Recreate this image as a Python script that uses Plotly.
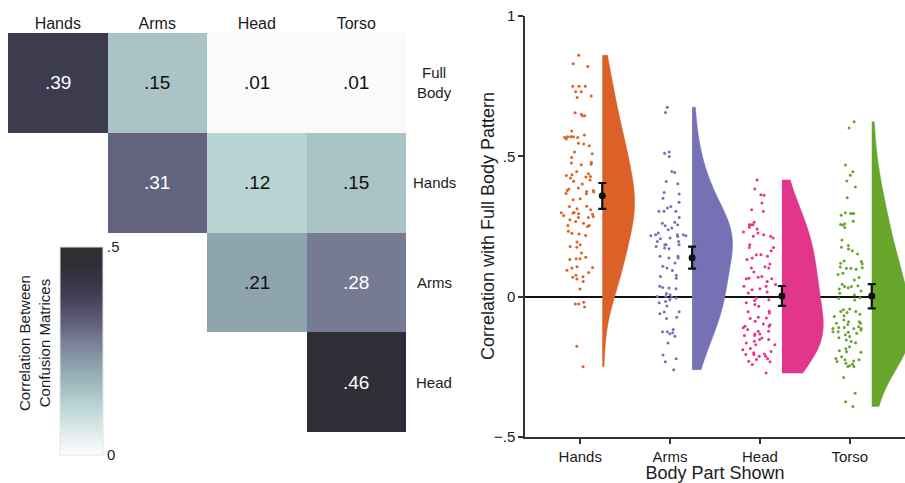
import plotly.graph_objects as go

# ---------------- data ----------------
hm_cols = ["Hands", "Arms", "Head", "Torso"]
hm_rows = ["Full Body", "Hands", "Arms", "Head"]
hm_row_labels = ["Full<br>Body", "Hands", "Arms", "Head"]
hm_z = [
    [0.39, 0.15, 0.01, 0.01],
    [None, 0.31, 0.12, 0.15],
    [None, None, 0.21, 0.28],
    [None, None, None, 0.46],
]

parts = ["Hands", "Arms", "Head", "Torso"]

hands_vals = [0.86, 0.82, 0.83, 0.75, 0.75, 0.75, 0.71, 0.715, 0.73, 0.73, 0.65, 0.645, 0.645,
              0.655, 0.59, 0.57, 0.576, 0.57, 0.568, 0.567, 0.57, 0.57, 0.562, 0.547, 0.544,
              0.538, 0.515, 0.509, 0.496, 0.476, 0.47, 0.472, 0.479, 0.446, 0.432, 0.438,
              0.434, 0.428, 0.426, 0.423, 0.416, 0.411, 0.401, 0.384, 0.387, 0.375, 0.373,
              0.378, 0.378, 0.367, 0.368, 0.345, 0.349, 0.313, 0.321, 0.295, 0.299, 0.31,
              0.322, 0.294, 0.298, 0.3, 0.282, 0.286, 0.289, 0.262, 0.25, 0.233, 0.282,
              0.274, 0.268, 0.254, 0.254, 0.223, 0.226, 0.218, 0.195, 0.185, 0.179, 0.176,
              0.156, 0.14, 0.135, 0.132, 0.135, 0.107, 0.102, 0.104, 0.094, 0.076, 0.063,
              0.069, 0.086, 0.071, 0.054, 0.027, -0.02, -0.026, -0.037, -0.026, -0.177, -0.25]
arms_vals = [0.675, 0.656, 0.499, 0.511, 0.515, 0.442, 0.446, 0.41, 0.402, 0.371, 0.366, 0.351,
             0.336, 0.316, 0.321, 0.304, 0.282, 0.304, 0.304, 0.265, 0.262, 0.256, 0.253,
             0.245, 0.238, 0.221, 0.227, 0.217, 0.221, 0.221, 0.197, 0.185, 0.185, 0.197,
             0.206, 0.214, 0.209, 0.217, 0.173, 0.179, 0.171, 0.185, 0.138, 0.144, 0.144,
             0.138, 0.12, 0.108, 0.102, 0.093, 0.076, 0.072, 0.066, 0.037, 0.028, 0.031,
             0.033, 0.011, 0.007, 0.001, 0.001, -0.005, -0.002, -0.011, -0.022, -0.017,
             -0.033, -0.055, -0.054, -0.061, -0.073, -0.078, -0.117, -0.125, -0.125, -0.129,
             -0.132, -0.141, -0.165, -0.208, -0.221, -0.232, -0.26]
head_vals = [0.416, 0.384, 0.361, 0.363, 0.334, 0.304, 0.31, 0.265, 0.256, 0.247, 0.256, 0.256,
             0.241, 0.227, 0.221, 0.23, 0.215, 0.209, 0.215, 0.185, 0.175, 0.175, 0.164,
             0.149, 0.149, 0.144, 0.138, 0.116, 0.107, 0.132, 0.102, 0.102, 0.088, 0.072,
             0.064, 0.064, 0.069, 0.066, 0.054, 0.043, 0.037, 0.025, 0.028, 0.037, 0.017,
             0.013, -0.011, -0.014, -0.005, -0.022, -0.034, -0.028, -0.052, -0.054, -0.058,
             -0.073, -0.078, -0.076, -0.088, -0.105, -0.097, -0.1, -0.105, -0.111, -0.117,
             -0.123, -0.123, -0.133, -0.138, -0.133, -0.138, -0.153, -0.153, -0.147, -0.165,
             -0.159, -0.171, -0.171, -0.189, -0.185, -0.195, -0.206, -0.206, -0.221, -0.212,
             -0.204, -0.2, -0.224, -0.232, -0.23, -0.212, -0.242, -0.272]
torso_vals = [0.623, 0.601, 0.469, 0.445, 0.433, 0.412, 0.391, 0.352, 0.296, 0.29, 0.299, 0.296,
              0.296, 0.269, 0.257, 0.246, 0.26, 0.255, 0.202, 0.182, 0.176, 0.17, 0.164,
              0.152, 0.125, 0.117, 0.127, 0.106, 0.103, 0.119, 0.101, 0.101, 0.098, 0.083,
              0.079, 0.068, 0.059, 0.044, 0.036, 0.027, 0.032, 0.039, 0.036, 0.012, 0.02,
              0.006, -0.012, -0.006, -0.004, -0.047, -0.053, -0.063, -0.053, -0.056, -0.044,
              -0.071, -0.068, -0.089, -0.099, -0.095, -0.089, -0.083, -0.095, -0.113, -0.113,
              -0.119, -0.11, -0.107, -0.11, -0.113, -0.13, -0.127, -0.125, -0.136, -0.125,
              -0.142, -0.146, -0.154, -0.16, -0.164, -0.178, -0.186, -0.193, -0.196, -0.198,
              -0.214, -0.22, -0.225, -0.231, -0.229, -0.249, -0.246, -0.249, -0.225, -0.237,
              -0.241, -0.288, -0.344, -0.374, -0.391]
part_values = [hands_vals, arms_vals, head_vals, torso_vals]

means = [0.36, 0.139, 0.002, 0.002]
ci_low = [0.313, 0.10, -0.033, -0.042]
ci_high = [0.405, 0.178, 0.038, 0.045]

y_tickvals = [-0.5, 0, 0.5, 1]
y_ticktext = ["\u2212.5", "0", ".5", "1"]

# ---------------- styles ----------------
FONT = "Liberation Sans, Arial, sans-serif"
TXT = "#1c1c1c"
colors = ["#dc6128", "#7671b4", "#e2368c", "#67a62a"]
violin_widths = [0.72, 0.9, 0.92, 0.9]
violin_bw = [0.1, 0.1, 0.1, 0.1]
VOFF = 0.245

W, H = 905, 483
def px_x(p):
    return p / W
def px_y(p):
    return 1 - p / H

hm_colorscale = [
    [0.0, "#ffffff"],
    [0.02, "#f9fafa"],
    [0.24, "#b8d4d3"],
    [0.30, "#aac4c6"],
    [0.42, "#8fa5ae"],
    [0.56, "#767a92"],
    [0.62, "#64637f"],
    [0.78, "#3d3b4e"],
    [0.92, "#2f2e36"],
    [1.0, "#313033"],
]

fig = go.Figure()

# ---------------- heatmap ----------------
fig.add_trace(go.Heatmap(
    z=hm_z, x=hm_cols, y=hm_rows, zmin=0, zmax=0.5,
    colorscale=hm_colorscale, hoverongaps=False,
    xaxis="x", yaxis="y",
    colorbar=dict(
        x=px_x(60), xanchor="left", y=px_y(351), yanchor="middle",
        xpad=0, ypad=0,
        len=208, lenmode="pixels", thickness=43, thicknessmode="pixels",
        tickvals=[0, 0.5], ticktext=["0", ".5"], ticks="",
        tickfont=dict(family=FONT, size=15, color=TXT),
        outlinewidth=1, outlinecolor="#e4e4e4",
    ),
))

annotations = []
for r, row in enumerate(hm_z):
    for c, v in enumerate(row):
        if v is None:
            continue
        annotations.append(dict(
            x=hm_cols[c], y=hm_rows[r], xref="x", yref="y",
            text=("%.2f" % v).lstrip("0"), showarrow=False,
            font=dict(family=FONT, size=19, color="#ffffff" if v >= 0.25 else "#111111"),
        ))
for r, lab in enumerate(hm_row_labels):
    annotations.append(dict(
        x=px_x(434), y=hm_rows[r], xref="paper", yref="y", text=lab,
        showarrow=False, xanchor="center",
        font=dict(family=FONT, size=15, color=TXT),
    ))
annotations.append(dict(
    x=px_x(34), y=px_y(343), xref="paper", yref="paper",
    xanchor="center", yanchor="middle",
    text="Correlation Between<br>Confusion Matrices", textangle=-90,
    showarrow=False, font=dict(family=FONT, size=15, color=TXT),
))
annotations.append(dict(
    x=px_x(488), y=px_y(226), xref="paper", yref="paper",
    xanchor="center", yanchor="middle",
    text="Correlation with Full Body Pattern", textangle=-90,
    showarrow=False, font=dict(family=FONT, size=18, color=TXT),
))

# ---------------- raincloud ----------------
for i, (vals, col) in enumerate(zip(part_values, colors)):
    pos = i + 1
    fig.add_trace(go.Violin(
        x0=pos + VOFF, y=vals, side="positive", width=violin_widths[i],
        spanmode="hard", bandwidth=violin_bw[i], points=False,
        fillcolor=col, opacity=1,
        line=dict(color=col, width=0.5), scalemode="width",
        box_visible=False, meanline_visible=False,
        xaxis="x2", yaxis="y2", showlegend=False, hoverinfo="skip",
    ))
    fig.add_trace(go.Box(
        x0=pos, y=vals, boxpoints="all", jitter=1.0, pointpos=0, width=0.44,
        fillcolor="rgba(0,0,0,0)", line=dict(color="rgba(0,0,0,0)", width=0),
        marker=dict(color=col, size=3), xaxis="x2", yaxis="y2",
        showlegend=False, hoverinfo="y",
    ))

fig.add_trace(go.Scatter(
    x=[p + 1 + VOFF for p in range(len(parts))], y=means, mode="markers",
    marker=dict(color="#111111", size=7),
    error_y=dict(type="data", symmetric=False,
                 array=[h - m for h, m in zip(ci_high, means)],
                 arrayminus=[m - l for l, m in zip(ci_low, means)],
                 color="#111111", thickness=2.2, width=4),
    xaxis="x2", yaxis="y2", showlegend=False,
))

fig.update_layout(
    width=W, height=H, margin=dict(l=0, r=0, t=0, b=0, autoexpand=False),
    paper_bgcolor="white", plot_bgcolor="white",
    font=dict(family=FONT, color=TXT),
    annotations=annotations,
    xaxis=dict(domain=[px_x(8), px_x(406)], side="top", showgrid=False,
               zeroline=False, showline=False, ticks="", automargin=False,
               tickfont=dict(family=FONT, size=16, color=TXT)),
    yaxis=dict(domain=[px_y(432), px_y(33)], autorange="reversed",
               showgrid=False, zeroline=False, showline=False, automargin=False,
               showticklabels=False, ticks=""),
    xaxis2=dict(domain=[px_x(525), 1.0], anchor="y2", type="linear",
                range=[0.385, 4.615], tickvals=[1, 2, 3, 4], ticktext=parts,
                showgrid=False, zeroline=False, showline=True, automargin=False,
                linecolor="#333333", linewidth=1.5, ticks="outside",
                ticklen=5, tickwidth=1.5, tickcolor="#333333",
                tickfont=dict(family=FONT, size=15, color=TXT),
                title=dict(text="Body Part Shown", standoff=0,
                           font=dict(family=FONT, size=18, color=TXT))),
    yaxis2=dict(domain=[px_y(437), px_y(16)], anchor="x2", range=[-0.5, 1],
                tickvals=y_tickvals, ticktext=y_ticktext, automargin=False,
                showgrid=False, zeroline=True, zerolinecolor="#111111",
                zerolinewidth=1.5, showline=True,
                linecolor="#333333", linewidth=1.5, ticks="outside",
                ticklen=5, tickwidth=1.5, tickcolor="#333333",
                tickfont=dict(family=FONT, size=15, color=TXT)),
)

fig.write_html("out.html", config={"displayModeBar": False},
               post_script="document.body.style.margin='0px';"
                           "document.body.style.overflow='hidden';")
